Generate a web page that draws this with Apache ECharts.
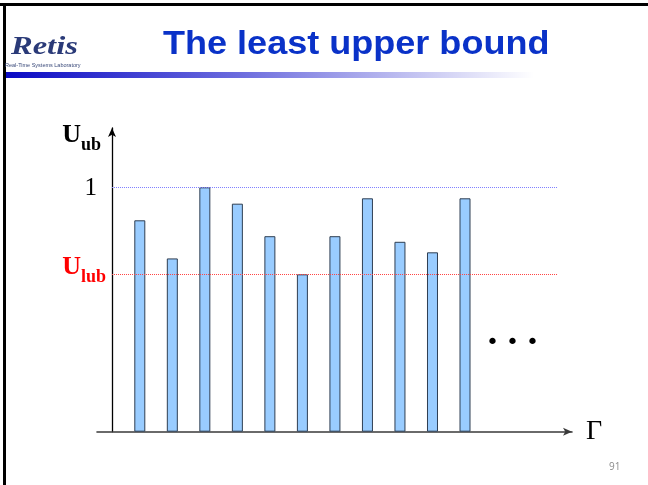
<!DOCTYPE html>
<html>
<head>
<meta charset="utf-8">
<title>The least upper bound</title>
<script src="https://cdn.jsdelivr.net/npm/echarts@6/dist/echarts.min.js"></script>
<style>
  html, body { margin: 0; padding: 0; background: #ffffff; }
  #chart { width: 648px; height: 485px; }
</style>
</head>
<body>
<div id="chart"></div>
<script>
// Task sets (Γ) and the utilization at which each one saturates the processor
const taskSets = [1, 2, 3, 4, 5, 6, 7, 8, 9, 10, 11];
const U_LUB = 0.644;
const U_ONE = 1;
const upperBounds = [0.865, 0.709, U_ONE, 0.933, 0.80, U_LUB, 0.80, 0.955, 0.777, 0.734, 0.955];

// Labelled levels on the utilization axis
const yLevels = [U_LUB, U_ONE];
const yLevelLabels = ['{u|U}{sub|lub}', '{one|1}'];

// Axis extents
const X_MIN = -0.316, X_MAX = 14.29;
const Y_MAX = 1.2427;
const GUIDE_START = 0.146, GUIDE_END = 13.83;

const chart = echarts.init(document.getElementById('chart'), null, { renderer: 'canvas' });

const serif = 'Liberation Serif, Times New Roman, serif';
const sans = 'Liberation Sans, Arial, sans-serif';

const option = {
  animation: false,
  backgroundColor: '#ffffff',
  grid: { left: 97, right: 76, top: 128, bottom: 53.3 },
  xAxis: {
    type: 'value',
    min: X_MIN,
    max: X_MAX,
    name: 'Γ',
    nameLocation: 'end',
    nameGap: 14,
    nameTextStyle: {
      fontFamily: serif,
      fontSize: 28,
      color: '#000000',
      align: 'left',
      verticalAlign: 'middle',
      padding: [0, 0, 11, 0]
    },
    axisLine: {
      show: true,
      symbol: ['none', 'arrow'],
      symbolSize: [6, 9],
      lineStyle: { color: '#3a3a3a', width: 1.6 }
    },
    axisTick: { show: false },
    axisLabel: { show: false },
    splitLine: { show: false }
  },
  yAxis: {
    type: 'value',
    min: 0,
    max: Y_MAX,
    offset: -15,
    name: '{u|U}{sub|ub}',
    nameLocation: 'end',
    nameGap: 0,
    nameTextStyle: {
      align: 'right',
      verticalAlign: 'top',
      padding: [0, 11, 0, 0],
      rich: {
        u: { fontFamily: serif, fontWeight: 'bold', fontSize: 26, lineHeight: 26, color: '#000', verticalAlign: 'bottom', padding: [0, 0, 6, 0] },
        sub: { fontFamily: serif, fontWeight: 'bold', fontSize: 18, lineHeight: 18, color: '#000', verticalAlign: 'bottom' }
      }
    },
    axisLine: {
      show: true,
      symbol: ['none', 'arrow'],
      symbolSize: [6, 9],
      lineStyle: { color: '#000000', width: 1.3 }
    },
    axisTick: { show: false },
    splitLine: { show: false },
    axisLabel: {
      show: true,
      customValues: yLevels,
      margin: 6,
      formatter: function (value) {
        return yLevelLabels[yLevels.indexOf(value)];
      },
      padding: [0, 0, 2, 0],
      rich: {
        u: { fontFamily: serif, fontWeight: 'bold', fontSize: 26, lineHeight: 26, color: '#ff0000', verticalAlign: 'bottom', padding: [0, 0, 6, 0] },
        sub: { fontFamily: serif, fontWeight: 'bold', fontSize: 18, lineHeight: 18, color: '#ff0000', verticalAlign: 'bottom' },
        one: { fontFamily: serif, fontSize: 25, lineHeight: 26, color: '#000', padding: [4, 9, 0, 0] }
      }
    }
  },
  series: [{
    type: 'bar',
    barWidth: 11,
    data: taskSets.map(function (g, i) { return [g, upperBounds[i]]; }),
    itemStyle: {
      color: '#99ccff',
      borderColor: '#2e3e52',
      borderWidth: 1
    },
    markLine: {
      silent: true,
      symbol: ['none', 'none'],
      label: { show: false },
      data: [
        [
          { coord: [GUIDE_START, U_ONE], lineStyle: { color: '#7f7fff', type: 'dotted', width: 1 } },
          { coord: [GUIDE_END, U_ONE] }
        ],
        [
          { coord: [GUIDE_START, U_LUB], lineStyle: { color: '#ff4444', type: 'dotted', width: 1 } },
          { coord: [GUIDE_END, U_LUB] }
        ]
      ]
    }
  }],
  graphic: [
    // slide frame, top and left edges
    { type: 'rect', left: 0, top: 3, shape: { width: 648, height: 3 }, style: { fill: '#000' } },
    { type: 'rect', left: 3, top: 3, shape: { width: 3, height: 482 }, style: { fill: '#000' } },
    // header rule fading to white
    {
      type: 'rect', left: 6, top: 72, shape: { width: 528, height: 6 },
      style: {
        fill: new echarts.graphic.LinearGradient(0, 0, 1, 0, [
          { offset: 0, color: '#0a0ac4' },
          { offset: 0.45, color: '#6e6ede' },
          { offset: 1, color: '#ffffff' }
        ])
      }
    },
    // slide title
    {
      type: 'text', x: 163, y: 28, scaleX: 1.06,
      style: { text: 'The least upper bound', fontFamily: sans, fontWeight: 'bold', fontSize: 34, fill: '#0a32c8' }
    },
    // lab logo
    {
      type: 'text', x: 11, y: 34, scaleX: 1.25,
      style: { text: 'Retis', fontFamily: serif, fontStyle: 'italic', fontWeight: 'bold', fontSize: 26, fill: '#2a3a78' }
    },
    {
      type: 'text', x: 5, y: 62,
      style: { text: 'Real-Time Systems Laboratory', fontFamily: sans, fontSize: 5.5, fill: '#3a4a7a' }
    },
    // continuation mark
    {
      type: 'text', left: 486, top: 332,
      style: { text: '• • •', fontFamily: 'DejaVu Sans, sans-serif', fontSize: 22, fill: '#000' }
    },
    // page number
    {
      type: 'text', left: 609, top: 462,
      style: { text: '91', fontFamily: 'Open Sans, sans-serif', fontSize: 10, fill: '#8c8c8c' }
    }
  ]
};

chart.setOption(option);
</script>
</body>
</html>
